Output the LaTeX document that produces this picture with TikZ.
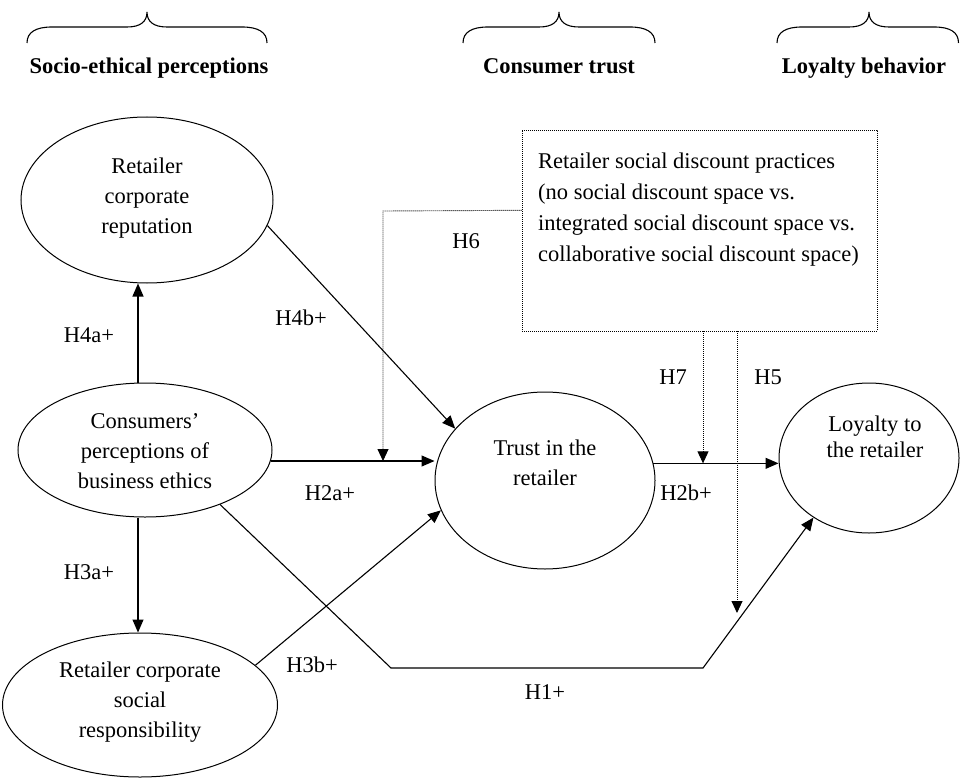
\documentclass[tikz,border=0pt]{standalone}
\usepackage{fontspec}
\setmainfont{Liberation Serif}
\usetikzlibrary{arrows.meta,shapes.geometric,calc}
\begin{document}
\begin{tikzpicture}[x=1pt,y=-1pt,
  ell/.style={draw,ellipse,line width=1pt,inner sep=0pt},
  txt/.style={font=\fontsize{22.5}{30}\selectfont,align=center,inner sep=0pt},
  lbl/.style={font=\fontsize{22.5}{27}\selectfont,inner sep=0pt},
  ttl/.style={font=\fontsize{22.5}{27}\selectfont\bfseries,inner sep=0pt,anchor=base},
  arr/.style={line width=1.1pt,-{Triangle[length=13pt,width=11pt]}},
  dotarr/.style={line width=0.9pt,dash pattern=on 0.9pt off 1.1pt,-{Triangle[length=12pt,width=11pt]}},
  dotbox/.style={draw,line width=0.9pt,dash pattern=on 0.9pt off 1.1pt,inner sep=0pt},
  brace/.style={line width=1.1pt}
]
\fill[white] (0,0) rectangle (960,778);
\useasboundingbox (0,0) rectangle (960,778);

% braces
\draw[brace] (27,43) .. controls (27,32) and (36,27) .. (52,27) -- (127,27)
  .. controls (140,27) and (147,22) .. (147,12)
  .. controls (147,22) and (154,27) .. (167,27) -- (242,27)
  .. controls (258,27) and (267,32) .. (267,43);
\draw[brace] (463,43) .. controls (463,32) and (472,27) .. (488,27) -- (539,27)
  .. controls (552,27) and (559,22) .. (559,12)
  .. controls (559,22) and (566,27) .. (579,27) -- (630,27)
  .. controls (646,27) and (655,32) .. (655,43);
\draw[brace] (777,43) .. controls (777,32) and (786,27) .. (802,27) -- (849,27)
  .. controls (862,27) and (869,22) .. (869,12)
  .. controls (869,22) and (876,27) .. (889,27) -- (934,27)
  .. controls (950,27) and (958.5,32) .. (958.5,43);

% titles
\node[ttl] (t1) at (149,74) {Socio-ethical perceptions};
\node[ttl] (t2) at (559,74) {Consumer trust};
\node[ttl] (t3) at (864,74) {Loyalty behavior};

% ellipses
\node[ell, minimum width=252pt, minimum height=166pt] (rep) at (147,200) {};
\node[ell, minimum width=254pt, minimum height=134pt] (cons) at (145,450) {};
\node[ell, minimum width=275pt, minimum height=144pt] (csr) at (140,705) {};
\node[ell, minimum width=220pt, minimum height=177pt] (trust) at (545,480.5) {};
\node[ell, minimum width=180pt, minimum height=150pt] (loy) at (869,458) {};

% ellipse texts
\node[txt] (repT) at (147,198) {Retailer\\corporate\\reputation};
\node[txt] (consT) at (145,451) {Consumers’\\perceptions of\\business ethics};
\node[txt] (csrT) at (140,702) {Retailer corporate\\social\\responsibility};
\node[txt] (trustT) at (545,463) {Trust in the\\retailer};
\node[txt, font=\fontsize{22.5}{26}\selectfont] (loyT) at (875,437) {Loyalty to\\the retailer};

% moderator box
\node[dotbox, minimum width=355pt, minimum height=201pt] (box) at (699.5,230.5) {};
\node[txt, align=left, anchor=north west, font=\fontsize{22.5}{31}\selectfont] (boxT) at (538,152.7)
  {Retailer social discount practices\\(no social discount space vs.\\integrated social discount space vs.\\collaborative social discount space)};

% coordinates
\coordinate (ax) at (138,0);
\coordinate (h6c) at (383,211);
\coordinate (h7x) at (703,0);
\coordinate (h5e) at (737,613);
\coordinate (h1a) at (391,668);
\coordinate (h1b) at (703,668);

% solid connectors
\draw[arr] (cons.north -| ax) -- (rep.south -| ax);
\draw[arr] (cons.south -| ax) -- (csr.north -| ax);
\draw[arr] (rep.-12) -- (trust.150);
\draw[arr] (cons.-5) -- (cons.-5 -| trust.west);
\draw[arr] (trust.9) -- (trust.9 -| loy.west);
\draw[arr] (csr.19) -- (trust.196);
\draw[arr] (cons.-36) -- (h1a) -- (h1b) -- (loy.-133);

% dotted moderator connectors
\draw[dotarr] ($(box.north west)!0.4!(box.south west)$) -- (h6c) -- (h6c |- cons.-5);
\draw[dotarr] (box.south -| h7x) -- (h7x |- trust.9);
\draw[dotarr] (box.south -| h5e) -- (h5e);

% labels
\node[lbl] (l4a) at (89,335) {H4a+};
\node[lbl] (l4b) at (301,318) {H4b+};
\node[lbl] (l6) at (466,241) {H6};
\node[lbl] (l2a) at (330,493) {H2a+};
\node[lbl] (l7) at (673,377) {H7};
\node[lbl] (l5) at (768,377) {H5};
\node[lbl] (l2b) at (686,493) {H2b+};
\node[lbl] (l3a) at (89,572) {H3a+};
\node[lbl] (l3b) at (312,665) {H3b+};
\node[lbl] (l1) at (545,692) {H1+};
\end{tikzpicture}
\end{document}
